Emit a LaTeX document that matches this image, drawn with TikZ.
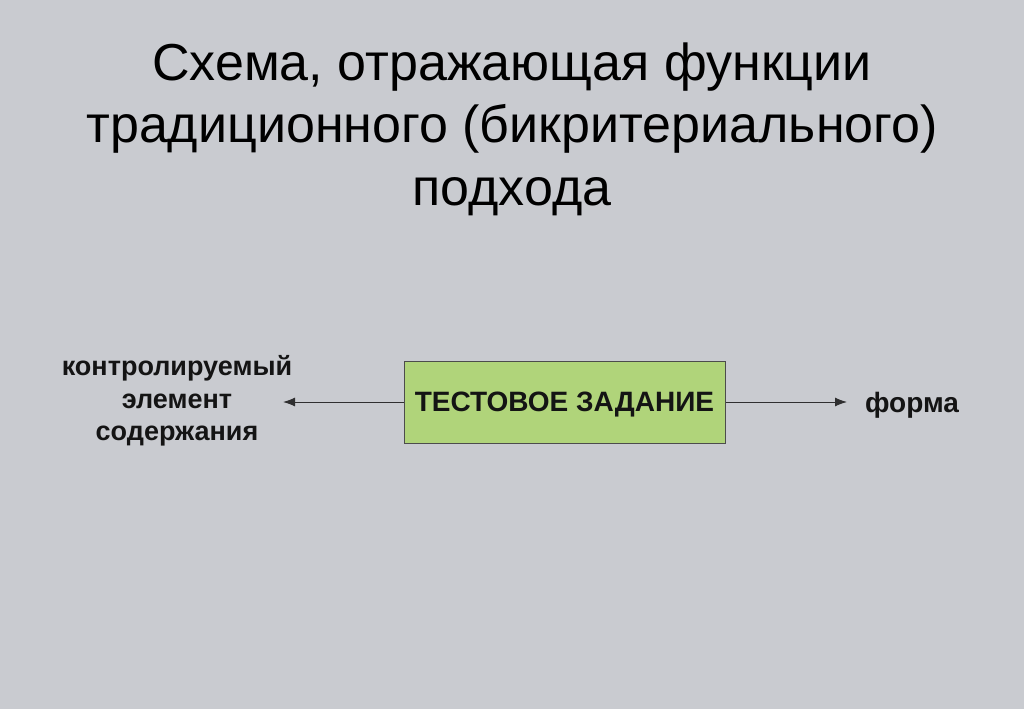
\documentclass[tikz,border=0pt]{standalone}
\usepackage{fontspec}
\setmainfont{Liberation Sans}
\usetikzlibrary{arrows.meta}
\definecolor{bgc}{RGB}{201,203,208}
\definecolor{boxc}{RGB}{176,212,122}
\definecolor{txt}{RGB}{20,20,20}
\tikzset{
  x=1pt,y=-1pt,
  lbl/.style={font=\bfseries\fontsize{28}{33}\selectfont, text=txt, align=center, inner sep=0pt},
  conn/.style={draw=txt!85!bgc, line width=1pt, -{Latex[length=12pt,width=9pt]}},
  mainbox/.style={draw=black!70, line width=1pt, fill=boxc, minimum width=321pt, minimum height=82pt, inner sep=0pt}
}
\begin{document}
\begin{tikzpicture}
\fill[bgc] (0,0) rectangle (1024,709);
\useasboundingbox (0,0) rectangle (1024,709);
\node[font=\fontsize{52}{62.5}\selectfont, align=center, text=black, inner sep=0pt] (title) at (512,129)
  {Схема, отражающая функции\\традиционного (бикритериального)\\подхода};
\node[mainbox] (box) at (564.5,402) {};
\node[lbl] (boxtxt) at ([yshift=-3pt]box.center) {ТЕСТОВОЕ ЗАДАНИЕ};
\node[lbl, font=\bfseries\fontsize{27}{32.5}\selectfont] (left) at (177,401) {контролируемый\\элемент\\содержания};
\node[lbl] (right) at (912,405) {форма};
\coordinate (lend) at (283,402);
\coordinate (rend) at (847,402);
\draw[conn] (box.west) -- (lend);
\draw[conn] (box.east) -- (rend);
\end{tikzpicture}
\end{document}
